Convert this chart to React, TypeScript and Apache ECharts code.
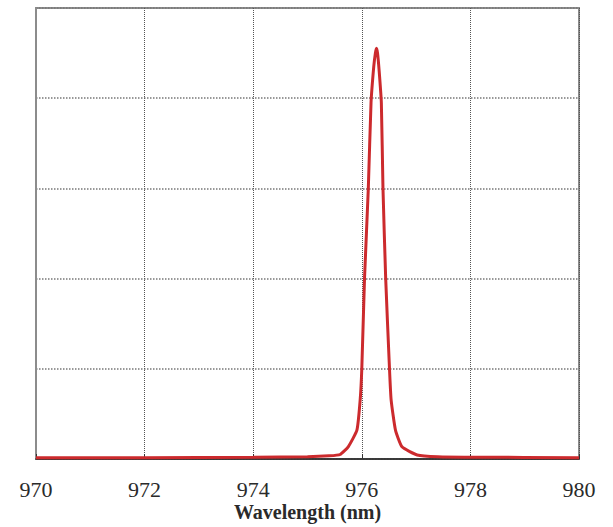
import React, { useEffect, useRef } from "react";
import * as echarts from "echarts";

const xTicks = [970, 972, 974, 976, 978, 980];
const wavelength = [
  970, 972, 974, 975, 975.4, 975.6, 975.75, 975.91, 975.97, 976.0, 976.05, 976.12,
  976.17, 976.22, 976.25, 976.27, 976.29, 976.32, 976.36, 976.39, 976.44, 976.51,
  976.54, 976.62, 976.74, 977.02, 977.4, 978, 980,
];
const intensity = [
  0.003, 0.003, 0.004, 0.005, 0.007, 0.01, 0.027, 0.064, 0.131, 0.2, 0.4, 0.6,
  0.79, 0.87, 0.9, 0.911, 0.9, 0.86, 0.79, 0.6, 0.4, 0.2,
  0.131, 0.064, 0.027, 0.009, 0.005, 0.004, 0.003,
];

const SERIF = "Liberation Serif";

export default function App() {
  const ref = useRef<HTMLDivElement>(null);
  useEffect(() => {
    if (!ref.current) return;
    const chart = echarts.init(ref.current, null, { renderer: "svg" });
    const data = wavelength.map((w, i) => [w, intensity[i]]);
    chart.setOption({
      animation: false,
      backgroundColor: "#ffffff",
      textStyle: { fontFamily: SERIF },
      grid: {
        left: 36,
        right: 34,
        top: 8,
        bottom: 68,
        outerBoundsMode: "none",
        containLabel: false,
        show: true,
        borderColor: "#8c8c8c",
        borderWidth: 2,
        backgroundColor: "transparent",
      },
      xAxis: {
        type: "value",
        min: xTicks[0],
        max: xTicks[xTicks.length - 1],
        interval: 2,
        name: "Wavelength (nm)",
        nameLocation: "middle",
        nameGap: 44,
        nameMoveOverlap: false,
        nameTextStyle: {
          fontFamily: SERIF,
          fontSize: 20,
          lineHeight: 17,
          fontWeight: "bold",
          color: "#2a2a2a",
        },
        axisLine: { show: true, lineStyle: { color: "#222222", width: 1.5 } },
        axisTick: { show: true, inside: true, length: 5, lineStyle: { color: "#333333" } },
        axisLabel: {
          margin: 21,
          fontFamily: SERIF,
          fontWeight: "normal",
          fontSize: 22,
          lineHeight: 18,
          color: "#2a2a2a",
        },
        splitLine: { show: true, lineStyle: { type: "dotted", color: "#555555", width: 1 } },
      },
      yAxis: {
        type: "value",
        min: 0,
        max: 1,
        interval: 0.2,
        axisLine: { show: true, lineStyle: { color: "#8c8c8c", width: 2 } },
        axisTick: { show: false },
        axisLabel: { show: false },
        splitLine: { show: true, lineStyle: { type: "dotted", color: "#777777", width: 1.5 } },
      },
      series: [
        {
          type: "line",
          data,
          showSymbol: false,
          smooth: 0.15,
          lineStyle: { color: "#cc2a2d", width: 3 },
        },
      ],
    });
    return () => chart.dispose();
  }, []);
  return (
    <div
      ref={ref}
      style={{ position: "fixed", left: 0, top: 0, width: 613, height: 527, background: "#fff" }}
    />
  );
}
